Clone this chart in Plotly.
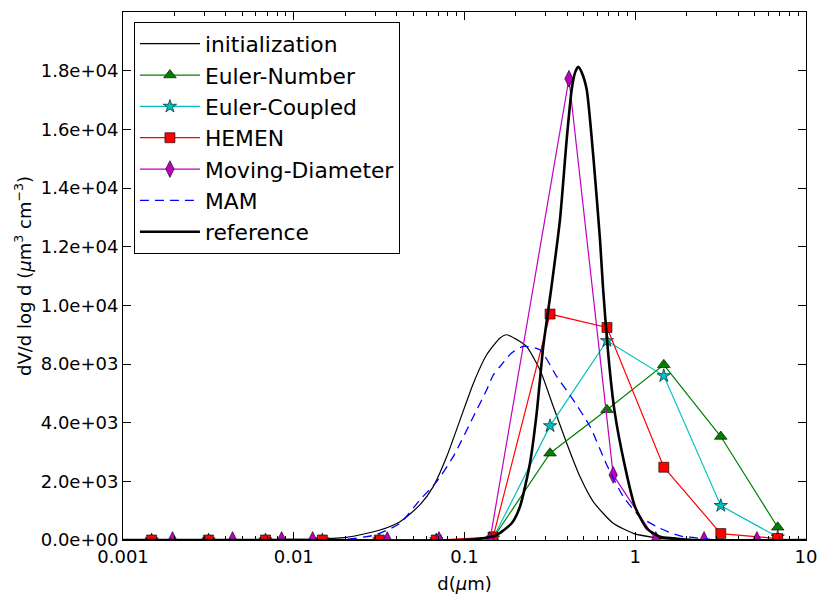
import plotly.graph_objects as go

# ---- data ----
grid_d = [0.00147, 0.00317, 0.00683, 0.0147, 0.0317, 0.0683, 0.147, 0.317, 0.683, 1.47, 3.17, 6.83]

euler_number = [0, 0, 0, 0, 0, 0, 60, 2958, 4437, 5973, 3527, 433]
euler_coupled = [0, 0, 0, 0, 0, 0, 60, 3891, 6792, 5597, 1171, 100]
hemen = [0, 0, 0, 0, 0, 0, 100, 7703, 7246, 2481, 220, 50]

md_d = [0.00195, 0.00438, 0.00849, 0.0129, 0.0353, 0.0709, 0.141, 0.409, 0.743, 1.32, 2.53, 5.16]
moving_diameter = [0, 0, 0, 0, 0, 0, 0, 15724, 2218, 0, 0, 0]

init_d = [0.001, 0.003, 0.006, 0.009, 0.012, 0.0204, 0.032, 0.0419, 0.0548, 0.0656, 0.0787, 0.0942, 0.1128,
          0.1349, 0.1615, 0.1766, 0.2113, 0.231, 0.2766, 0.3311, 0.3968, 0.4744, 0.5675,
          0.7431, 0.9753, 1.276, 1.83, 3.0, 10.0]
init_v = [0, 0, 0, 25, 25, 92, 341, 625, 1195, 1820, 2844, 4096, 5347,
          6314, 6884, 6997, 6769, 6598, 5802, 4551, 3300, 2161, 1308,
          570, 228, 92, 0, 0, 0]

mam_d = [0.001, 0.003, 0.008, 0.0204, 0.0299, 0.0419, 0.0548, 0.0687, 0.0859, 0.1128, 0.1349,
         0.1476, 0.1615, 0.1887, 0.2208, 0.2766, 0.3467, 0.4333, 0.5433, 0.6813, 0.8511,
         1.066, 1.396, 1.828, 2.504, 3.0]
mam_v = [0, 0, 0, 30, 171, 570, 1365, 1990, 2844, 4209, 5120,
         5631, 5916, 6371, 6598, 6485, 5575, 4778, 3868, 2560, 1479,
         796, 398, 137, 51, 0]

ref_d = [0.001, 0.01, 0.1, 0.141, 0.1545, 0.189, 0.2113, 0.2418, 0.2647, 0.2893, 0.3232,
         0.3624, 0.3967, 0.4245, 0.445, 0.4638, 0.485, 0.5196, 0.5679, 0.6217, 0.6475, 0.6956, 0.756,
         0.871, 0.9965, 1.167, 1.396, 1.67, 2.2, 10.0]
ref_v = [0, 0, 0, 100, 171, 570, 1137, 2618, 4324, 6598, 8635,
         10922, 13652, 15359, 15950, 16133, 15950, 15359, 13083, 10239, 8600, 6300, 4400,
         2502, 1137, 399, 113, 58, 0, 0]

ytick_vals = [0, 2000, 4000, 6000, 8000, 10000, 12000, 14000, 16000]
ytick_text = ["0.0e+00", "2.0e+03", "4.0e+03", "8.0e+03", "1.0e+04",
              "1.2e+04", "1.4e+04", "1.6e+04", "1.8e+04"]
xtick_vals = [0.001, 0.01, 0.1, 1, 10]
xtick_text = ["0.001", "0.01", "0.1", "1", "10"]
xminor_vals = [m * 10.0 ** e for e in (-3, -2, -1, 0) for m in range(2, 10)]

FONT = "DejaVu Sans"

fig = go.Figure()
fig.add_trace(go.Scatter(x=init_d, y=init_v, mode="lines", name="initialization",
                         line=dict(color="black", width=1.2, shape="spline", smoothing=0.6)))
fig.add_trace(go.Scatter(x=grid_d, y=euler_number, mode="lines+markers", name="Euler-Number",
                         line=dict(color="#008000", width=1.2),
                         marker=dict(symbol="triangle-up", size=11, color="#008000",
                                     line=dict(color="black", width=0.6))))
fig.add_trace(go.Scatter(x=grid_d, y=euler_coupled, mode="lines+markers", name="Euler-Coupled",
                         line=dict(color="#00BFBF", width=1.2),
                         marker=dict(symbol="star", size=10, color="#00BFBF",
                                     line=dict(color="black", width=0.6))))
fig.add_trace(go.Scatter(x=grid_d, y=hemen, mode="lines+markers", name="HEMEN",
                         line=dict(color="#FF0000", width=1.2),
                         marker=dict(symbol="square", size=10, color="#FF0000",
                                     line=dict(color="black", width=0.6))))
fig.add_trace(go.Scatter(x=md_d, y=moving_diameter, mode="lines+markers", name="Moving-Diameter",
                         line=dict(color="#BF00BF", width=1.2),
                         marker=dict(symbol="diamond-tall", size=12, color="#BF00BF",
                                     line=dict(color="black", width=0.6))))
fig.add_trace(go.Scatter(x=mam_d, y=mam_v, mode="lines", name="MAM",
                         line=dict(color="#0000FF", width=1.3, dash="9px,6px",
                                   shape="spline", smoothing=0.6)))
fig.add_trace(go.Scatter(x=ref_d, y=ref_v, mode="lines", name="reference",
                         line=dict(color="black", width=2.6, shape="spline", smoothing=0.6)))

fig.update_layout(
    width=822, height=598,
    margin=dict(l=123, r=16, t=12, b=58),
    paper_bgcolor="white", plot_bgcolor="white",
    font=dict(family=FONT, size=18, color="black"),
    showlegend=True,
    legend=dict(x=0.016, y=0.981, xanchor="left", yanchor="top",
                bgcolor="white", bordercolor="black", borderwidth=1,
                font=dict(family=FONT, size=21.8), itemwidth=60,
                tracegroupgap=0),
)
fig.update_xaxes(type="log", range=[-3.0001, 1.0001], tickmode="array",
                 tickvals=xtick_vals, ticktext=xtick_text, ticklabeloverflow="allow",
                 automargin=False,
                 ticks="inside", ticklen=8, tickcolor="black", showline=True,
                 linecolor="black", linewidth=1, mirror="allticks", showgrid=False,
                 zeroline=False,
                 minor=dict(tickmode="array", tickvals=xminor_vals, ticks="inside",
                            ticklen=4, tickcolor="black", showgrid=False),
                 tickfont=dict(family=FONT, size=18),
                 title=dict(text="d(<i>μ</i>m)", font=dict(family=FONT, size=18), standoff=11))
fig.update_yaxes(range=[0, 18000], tickvals=ytick_vals, ticktext=ytick_text,
                 ticks="inside", ticklen=8, tickcolor="black", showline=True,
                 linecolor="black", linewidth=1, mirror="allticks", showgrid=False,
                 zeroline=False, automargin=False,
                 tickfont=dict(family=FONT, size=18),
                 title=dict(text="dV/d log d (<i>μ</i>m<sup>3</sup> cm<sup>−3</sup>)",
                            font=dict(family=FONT, size=18), standoff=4))

fig.write_html("out.html")
